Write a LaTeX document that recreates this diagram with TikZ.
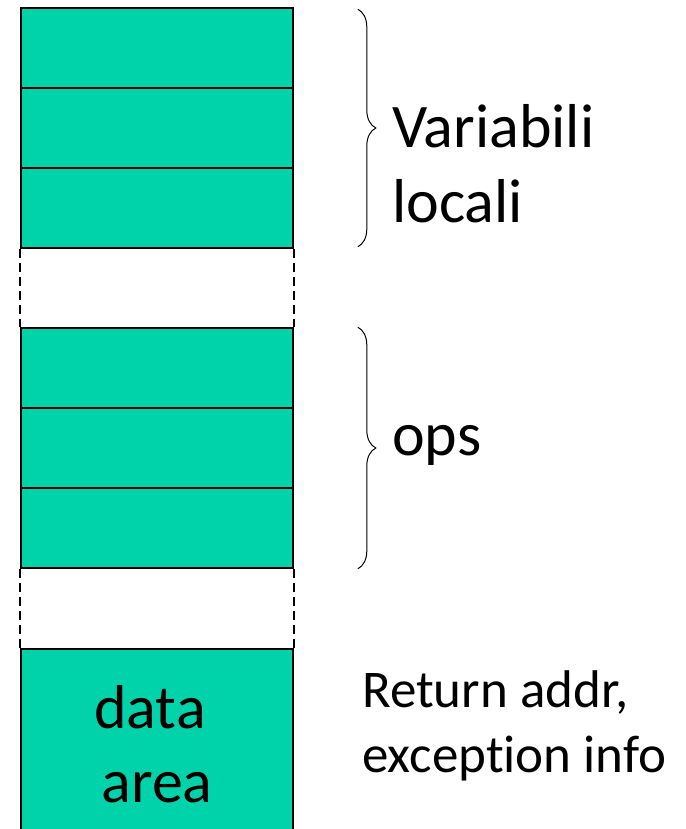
\documentclass[tikz,border=0pt]{standalone}
\usepackage{fontspec}
\setmainfont{Carlito}[Ligatures=NoCommon]
\usetikzlibrary{decorations.pathreplacing,calc}
\definecolor{slot}{RGB}{0,211,170}

\begin{document}
\begin{tikzpicture}[x=1pt,y=-1pt,
	cell/.style={rectangle, draw, fill=slot, line width=1.6pt, minimum width=272pt, minimum height=80pt, inner sep=0pt},
	gap/.style={line width=1.6pt, dash pattern=on 9pt off 5pt},
	curly/.style={decorate, decoration={brace, amplitude=18pt}, line width=1pt},
	big/.style={font=\fontsize{62}{74}\selectfont, inner sep=0pt}]
		\useasboundingbox (0,0) rectangle (685,829);
		% local variables
		\node[cell] (v1) at (157,48) {};
		\node[cell] (v2) at (157,128) {};
		\node[cell] (v3) at (157,208) {};
		% operand stack
		\node[cell] (o1) at (157,368) {};
		\node[cell] (o2) at (157,448) {};
		\node[cell] (o3) at (157,528) {};
		% frame data
		\node[cell, minimum height=200pt, anchor=north] (da) at (157,648) {};
		\node[big, align=center, anchor=base] (dtxt) at ($(da.north)+(0,154)$) {data\kern14pt\\area};
		
		\draw[gap] (v3.south west) -- (o1.north west);
		\draw[gap] (v3.south east) -- (o1.north east);
		\draw[gap] (o3.south west) -- (da.north west);
		\draw[gap] (o3.south east) -- (da.north east);
		
		\draw[curly] ($(v1.north east)+(64,2)$) -- ($(v3.south east)+(64,-2)$);
		\draw[curly] ($(o1.north east)+(64,0)$) -- ($(o3.south east)+(64,0)$);
		
		\node[big, align=left, anchor=base west] (vl) at (392,222) {Variabili\\locali};
		\node[big, anchor=base west] (ops) at (392,455) {ops};
		\node[font=\fontsize{53}{65}\selectfont, inner sep=0pt, align=left, anchor=base west] (ret) at (362,772) {Return addr,\\exception info};
	\end{tikzpicture}
\end{document}
